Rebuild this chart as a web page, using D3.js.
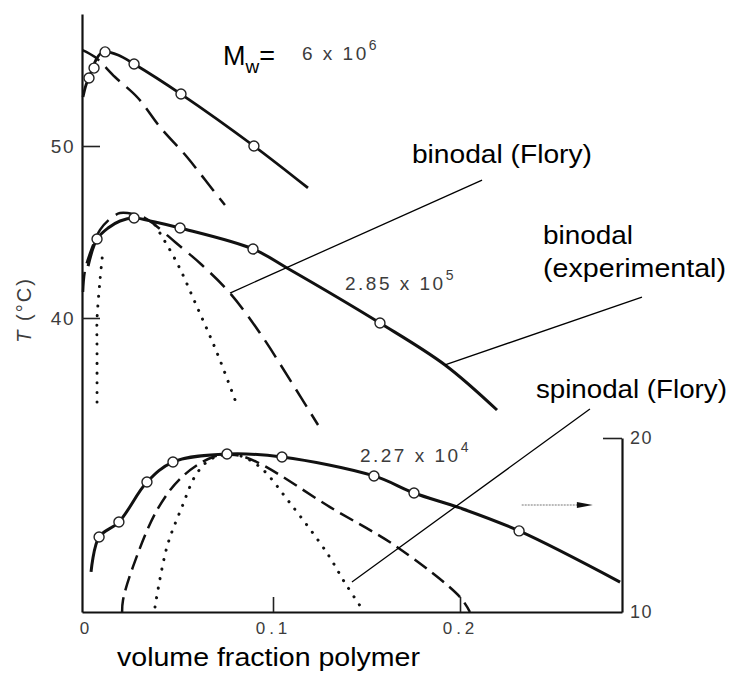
<!DOCTYPE html>
<html>
<head>
<meta charset="utf-8">
<script src="https://cdn.jsdelivr.net/npm/d3@7"></script>
<style>
  html, body { margin: 0; padding: 0; background: #fff; }
  svg { display: block; }
  .scan { font-family: "Liberation Sans", Arial, sans-serif; fill: #3c3c3c; }
  .note { font-family: "Liberation Sans", Arial, sans-serif; fill: #000; }
</style>
</head>
<body>
<svg id="chart" width="734" height="673"></svg>
<script>
// Cloud-point (binodal) and Flory binodal/spinodal curves, polymer in solvent.
// x = volume fraction polymer, T = temperature (°C).
// Upper two molecular weights read on the left T axis, the lowest on the right axis.

// ---- Mw = 6 x 10^6 -------------------------------------------------------
const mwHighPoints = [[0.0016, 53.95], [0.0043, 54.53], [0.0102, 55.47], [0.0257, 54.77], [0.0508, 53.02], [0.0898, 50.0]];
const mwHighBinodalExp = [[-0.0016, 52.85], [0.0, 53.55], [0.0016, 53.95], [0.0032, 54.42], [0.0053, 55.0], [0.0075, 55.35],
  [0.0102, 55.47], [0.0171, 55.29], [0.0257, 54.77], [0.0508, 53.02], [0.0898, 50.0], [0.1187, 47.56]];
const mwHighBinodalFlory = [[-0.0019, 55.58], [0.0048, 55.17], [0.0155, 54.01], [0.0278, 52.79], [0.0396, 51.10],
  [0.054, 49.36], [0.0679, 47.44], [0.0743, 46.57]];

// ---- Mw = 2.85 x 10^5 ----------------------------------------------------
const mwMidPoints = [[0.0059, 44.59], [0.0257, 45.81], [0.0503, 45.23], [0.0893, 44.01], [0.1572, 39.71]];
const mwMidBinodalExp = [[0.0011, 43.02], [0.0059, 44.59], [0.0118, 45.23], [0.0182, 45.64], [0.0257, 45.81], [0.0369, 45.58],
  [0.0503, 45.23], [0.0893, 44.01], [0.1075, 42.91], [0.1572, 39.71], [0.192, 37.27], [0.2198, 34.65]];
const mwMidBinodalFlory = [[-0.0016, 41.51], [-0.0005, 42.79], [0.0032, 44.07], [0.0075, 45.12], [0.0128, 45.76], [0.0182, 46.10],
  [0.0251, 46.05], [0.0316, 45.81], [0.0369, 45.41], [0.0476, 44.42], [0.0620, 43.08], [0.0770, 41.45], [0.0930, 39.13],
  [0.1091, 36.40], [0.1241, 33.78]];
const mwMidSpinodalLeft = [[0.0059, 35.12], [0.0059, 37.97], [0.0059, 39.88], [0.0075, 42.21], [0.0091, 43.95]];
const mwMidSpinodalRight = [[0.0369, 45.41], [0.0487, 43.20], [0.0594, 40.64], [0.0701, 37.97], [0.0813, 34.77]];

// ---- Mw = 2.27 x 10^4 (right T axis) -------------------------------------
const mwLowPoints = [[0.0070, 14.31], [0.0176, 15.17], [0.0326, 17.47], [0.0465, 18.62], [0.0754, 19.08], [0.1048, 18.91],
  [0.1540, 17.82], [0.1754, 16.84], [0.2316, 14.66]];
const mwLowBinodalExp = [[0.0027, 12.30], [0.0070, 14.31], [0.0176, 15.17], [0.0326, 17.47], [0.0465, 18.62], [0.0754, 19.08],
  [0.1048, 18.91], [0.1540, 17.82], [0.1754, 16.84], [0.2, 15.98], [0.2316, 14.66], [0.2856, 11.72]];
const mwLowBinodalFlory = [[0.0193, 10.0], [0.0198, 10.69], [0.0251, 12.59], [0.0380, 15.86], [0.0513, 17.76], [0.0679, 18.91],
  [0.0797, 19.02], [0.0914, 18.62], [0.1305, 16.03], [0.1663, 13.74], [0.2, 10.86], [0.2053, 10.0]];
const mwLowSpinodal = [[0.0369, 10.29], [0.0433, 13.74], [0.0513, 16.03], [0.0594, 17.99], [0.0679, 18.85], [0.0807, 19.02],
  [0.0930, 18.33], [0.1091, 16.26], [0.1289, 13.39], [0.1385, 11.67], [0.1481, 10.11]];

// ---- axis ticks ----------------------------------------------------------
const xTicks = [0, 0.1, 0.2];
const xTickLabels = ["0", "0.1", "0.2"];
const leftTicks = [40, 50];
const rightTicks = [10, 20];

const svg = d3.select("#chart");

// scales
const x = d3.scaleLinear().domain([0, 0.2]).range([86, 460]);
const yL = d3.scaleLinear().domain([40, 50]).range([318, 146]);
const yR = d3.scaleLinear().domain([10, 20]).range([612, 438]);

const plotLeft = 82, plotRight = 622, plotTop = 14, plotBottom = 612;

// ---- axes ----------------------------------------------------------------
const yLAxisScale = d3.scaleLinear().domain([yL.invert(plotBottom), yL.invert(plotTop)]).range([plotBottom, plotTop]);
const gL = svg.append("g").attr("transform", `translate(${plotLeft},0)`)
  .call(d3.axisLeft(yLAxisScale).tickValues(leftTicks).tickSize(-18).tickSizeOuter(0).tickPadding(7).tickFormat(d3.format("d")));

const xAxisScale = d3.scaleLinear().domain([x.invert(plotLeft), x.invert(plotRight)]).range([plotLeft, plotRight]);
const gX = svg.append("g").attr("transform", `translate(0,${plotBottom})`)
  .call(d3.axisBottom(xAxisScale).tickValues(xTicks).tickSize(-15).tickSizeOuter(0).tickPadding(10)
    .tickFormat((d, i) => xTickLabels[i]));
gX.selectAll(".tick").filter(d => d === 0).select("line").remove();

const gR = svg.append("g").attr("transform", `translate(${plotRight},0)`)
  .call(d3.axisRight(yR).tickValues(rightTicks).tickSize(-19).tickSizeOuter(0).tickPadding(6).tickFormat(d3.format("d")));
gR.selectAll(".tick").filter(d => d === 10).select("line").remove();

[gL, gX, gR].forEach(g => {
  g.select(".domain").attr("stroke", "#111").attr("stroke-width", 2.2);
  g.selectAll(".tick line").attr("stroke", "#222").attr("stroke-width", 1.6);
  g.selectAll(".tick text").attr("class", "scan").attr("font-size", 19).attr("letter-spacing", 1.5).attr("fill", "#3c3c3c");
});
gX.selectAll(".tick text").attr("font-size", 17).attr("letter-spacing", 4);
gR.selectAll(".tick text").attr("font-size", 18).attr("dx", 2);

// axis titles
svg.append("text").attr("class", "scan")
  .attr("transform", `translate(31,${yL(40.47)}) rotate(-90)`)
  .attr("text-anchor", "middle").attr("font-size", 20).attr("letter-spacing", 2)
  .html('<tspan font-style="italic">T</tspan> (°C)');

svg.append("text").attr("class", "note")
  .attr("x", 117).attr("y", 666).attr("font-size", 25)
  .attr("textLength", 303).attr("lengthAdjust", "spacingAndGlyphs")
  .text("volume fraction polymer");

// ---- curves --------------------------------------------------------------
const lineL = d3.line().x(d => x(d[0])).y(d => yL(d[1])).curve(d3.curveCatmullRom.alpha(0.5));
const lineR = d3.line().x(d => x(d[0])).y(d => yR(d[1])).curve(d3.curveCatmullRom.alpha(0.5));

const curves = svg.append("g").attr("fill", "none").attr("stroke", "#111");

function draw(data, gen, width, dash, cap) {
  curves.append("path").attr("d", gen(data))
    .attr("stroke-width", width)
    .attr("stroke-dasharray", dash || null)
    .attr("stroke-linecap", cap || "butt");
}

// Flory binodals (dashed)
draw(mwHighBinodalFlory, lineL, 2.5, "20,9");
draw(mwMidBinodalFlory, lineL, 2.5, "20,9");
draw(mwLowBinodalFlory, lineR, 2.5, "15,7");
// Flory spinodals (dotted)
draw(mwMidSpinodalLeft, lineL, 3, "0.1,9.5", "round");
draw(mwMidSpinodalRight, lineL, 3, "0.1,9.5", "round");
draw(mwLowSpinodal, lineR, 3, "0.1,9.5", "round");
// experimental binodals (solid)
draw(mwHighBinodalExp, lineL, 2.8);
draw(mwMidBinodalExp, lineL, 3);
draw(mwLowBinodalExp, lineR, 3);

// experimental cloud points
const pts = svg.append("g").attr("fill", "#fff").attr("stroke", "#222").attr("stroke-width", 1.4);
pts.selectAll(".ph").data(mwHighPoints).join("circle").attr("cx", d => x(d[0])).attr("cy", d => yL(d[1])).attr("r", 5);
pts.selectAll(".pm").data(mwMidPoints).join("circle").attr("cx", d => x(d[0])).attr("cy", d => yL(d[1])).attr("r", 5);
pts.selectAll(".pl").data(mwLowPoints).join("circle").attr("cx", d => x(d[0])).attr("cy", d => yR(d[1])).attr("r", 5);

// ---- leader lines and labels --------------------------------------------
const leaders = [
  [[0.0770, 41.45], [0.2118, 48.02]],
  [[0.192, 37.27], [0.2973, 41.22]],
  [[0.1422, 24.65], [0.2695, 34.71]]
];
svg.append("g").attr("stroke", "#000").attr("stroke-width", 1.3)
  .selectAll("line").data(leaders).join("line")
  .attr("x1", d => x(d[0][0])).attr("y1", d => yL(d[0][1]))
  .attr("x2", d => x(d[1][0])).attr("y2", d => yL(d[1][1]));

function note(xv, tv, str, len) {
  const t = svg.append("text").attr("class", "note")
    .attr("x", x(xv)).attr("y", yL(tv)).attr("font-size", 25).text(str);
  if (len) t.attr("textLength", len).attr("lengthAdjust", "spacingAndGlyphs");
  return t;
}
note(0.1743, 49.01, "binodal (Flory)", 180);
note(0.2444, 44.30, "binodal", 90);
note(0.2444, 42.38, "(experimental)", 183);
note(0.2406, 35.35, "spinodal (Flory)", 191);

// Mw labels
svg.append("text").attr("class", "note").attr("x", x(0.0733)).attr("y", yL(54.71)).attr("font-size", 27)
  .html('M<tspan font-size="19" dy="8">w</tspan><tspan dy="-8">=</tspan>');

function mwLabel(xv, py, base, exp) {
  svg.append("text").attr("class", "scan").attr("x", x(xv)).attr("y", py)
    .attr("font-size", 19).attr("letter-spacing", 2.5)
    .html(`${base}<tspan font-size="14" dy="-10" letter-spacing="0">${exp}</tspan>`);
}
mwLabel(0.1155, yL(55.0), "6 x 10", "6");
mwLabel(0.1385, yL(41.63), "2.85 x 10", "5");
mwLabel(0.1465, yR(18.62), "2.27 x 10", "4");

// arrow pointing to the right-hand T axis
const ay = yR(16.15);
svg.append("line").attr("x1", x(0.233)).attr("x2", x(0.266)).attr("y1", ay).attr("y2", ay)
  .attr("stroke", "#777").attr("stroke-width", 1.2).attr("stroke-dasharray", "2,1");
svg.append("path")
  .attr("d", `M${x(0.2625)},${ay - 3} L${x(0.271)},${ay} L${x(0.2625)},${ay + 3} Z`)
  .attr("fill", "#111");
</script>
</body>
</html>
